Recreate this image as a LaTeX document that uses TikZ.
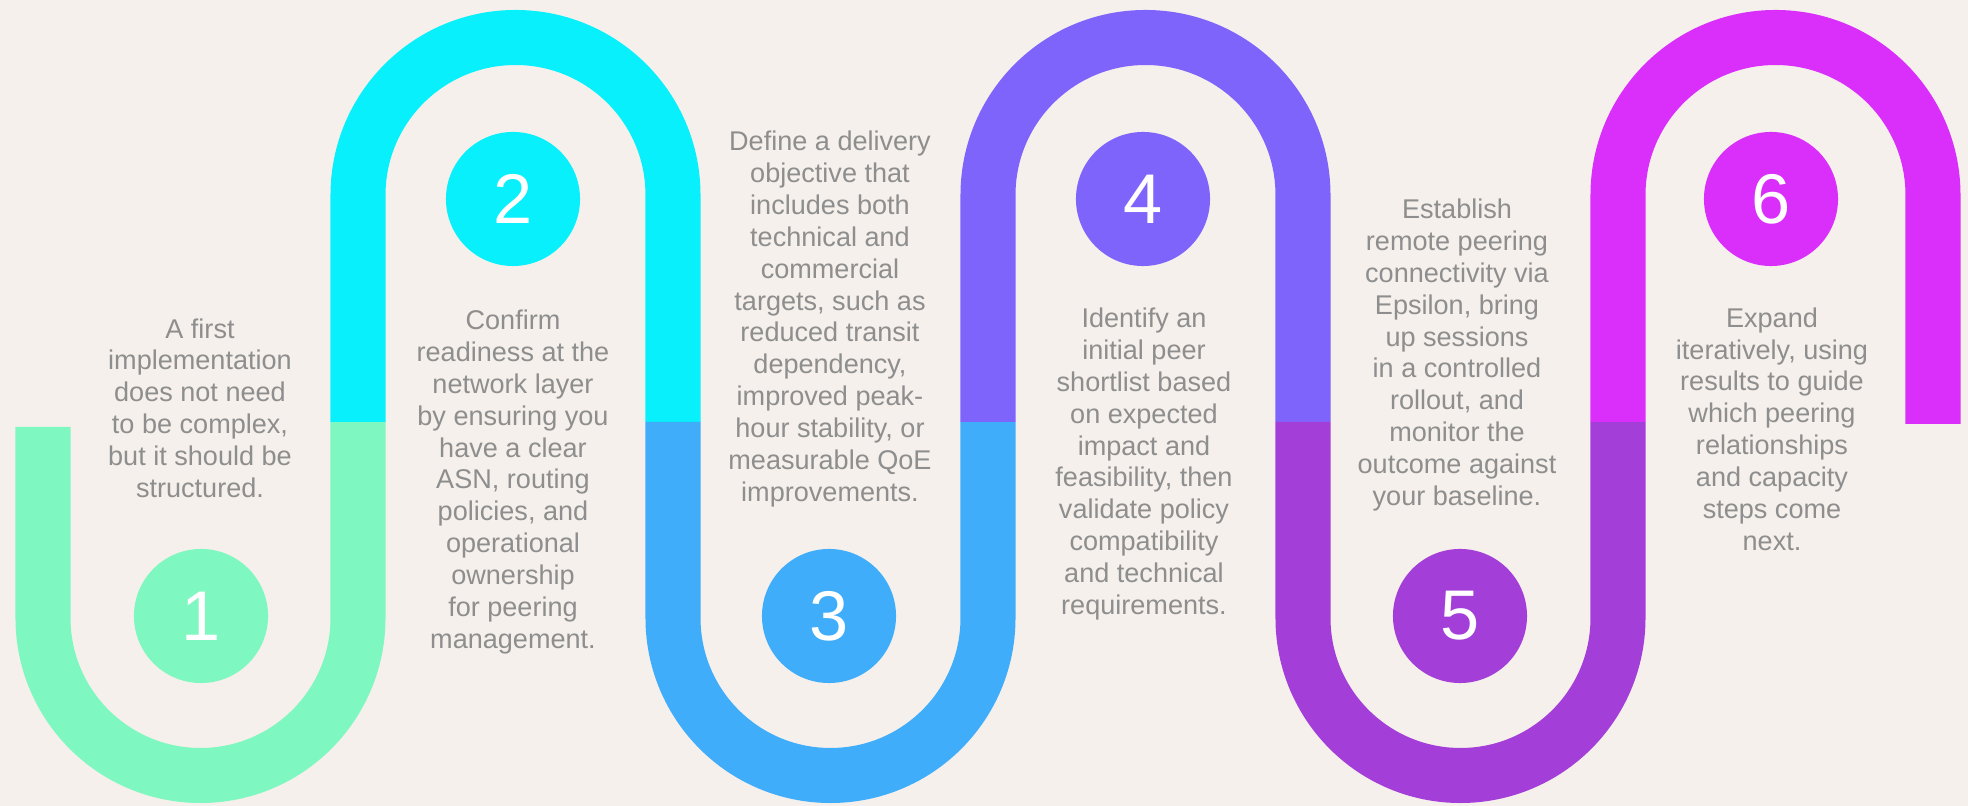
\documentclass[tikz,border=0pt]{standalone}
\usepackage{fontspec}
\setmainfont{Liberation Sans}
\usepackage{xcolor}
\usepackage{tikz}

\definecolor{bgcream}{HTML}{F5F0EB}
\definecolor{stepA}{HTML}{7EF7C0}
\definecolor{stepB}{HTML}{08F0FC}
\definecolor{stepC}{HTML}{3FADF9}
\definecolor{stepD}{HTML}{7F64FC}
\definecolor{stepE}{HTML}{A43ED8}
\definecolor{stepF}{HTML}{DA2FFA}
\definecolor{txtgray}{HTML}{8E8E8E}

\begin{document}
\begin{tikzpicture}[x=0.01cm, y=0.01cm,
  band/.style={line width=0.55cm, line cap=butt},
  num/.style={circle, minimum size=1.34cm, inner sep=0pt, text=white,
    font=\fontsize{20}{20}\selectfont},
  info/.style={align=center, text=txtgray, font=\fontsize{7.7}{9.05}\selectfont}]

  % Fundo
  \fill[bgcream] (0,0) rectangle (1968,806);
  \useasboundingbox (0,0) rectangle (1968,806);

  % Pontas das faixas
  \coordinate (s0) at (43,379);
  \coordinate (s1) at (358,384);
  \coordinate (s2) at (673,384);
  \coordinate (s3) at (988,384);
  \coordinate (s4) at (1303,384);
  \coordinate (s5) at (1618,384);
  \coordinate (s6) at (1933,382);

  % Faixas
  \draw[band, stepA] (s0) -- ++(0,-191) arc[start angle=180, end angle=360, radius=157.5] -- (s1);
  \draw[band, stepB] (s1) -- ++(0,227) arc[start angle=180, end angle=0, radius=157.5] -- (s2);
  \draw[band, stepC] (s2) -- ++(0,-196) arc[start angle=180, end angle=360, radius=157.5] -- (s3);
  \draw[band, stepD] (s3) -- ++(0,227) arc[start angle=180, end angle=0, radius=157.5] -- (s4);
  \draw[band, stepE] (s4) -- ++(0,-196) arc[start angle=180, end angle=360, radius=157.5] -- (s5);
  \draw[band, stepF] (s5) -- ++(0,227) arc[start angle=180, end angle=0, radius=157.5] -- (s6);

  % Numeros
  \node[num, fill=stepA] (n1) at (201,190) {1};
  \node[num, fill=stepB] (n2) at (513,607) {2};
  \node[num, fill=stepC] (n3) at (829,190) {3};
  \node[num, fill=stepD] (n4) at (1143,607) {4};
  \node[num, fill=stepE] (n5) at (1460,190) {5};
  \node[num, fill=stepF] (n6) at (1771,607) {6};

  % Textos
  \node[info] (t1) at (200,398) {A first\\implementation\\does not need\\to be complex,\\but it should be\\structured.};
  \node[info] (t2) at (513,324) {Confirm\\readiness at the\\network layer\\by ensuring you\\have a clear\\ASN, routing\\policies, and\\operational\\ownership\\for peering\\management.};
  \node[info] (t3) at (830,487) {Define a delivery\\objective that\\includes both\\technical and\\commercial\\targets, such as\\reduced transit\\dependency,\\improved peak-\\hour stability, or\\measurable QoE\\improvements.};
  \node[info] (t4) at (1144,342) {Identify an\\initial peer\\shortlist based\\on expected\\impact and\\feasibility, then\\validate policy\\compatibility\\and technical\\requirements.};
  \node[info] (t5) at (1457,451) {Establish\\remote peering\\connectivity via\\Epsilon, bring\\up sessions\\in a controlled\\rollout, and\\monitor the\\outcome against\\your baseline.};
  \node[info] (t6) at (1772,377) {Expand\\iteratively, using\\results to guide\\which peering\\relationships\\and capacity\\steps come\\next.};

\end{tikzpicture}
\end{document}
